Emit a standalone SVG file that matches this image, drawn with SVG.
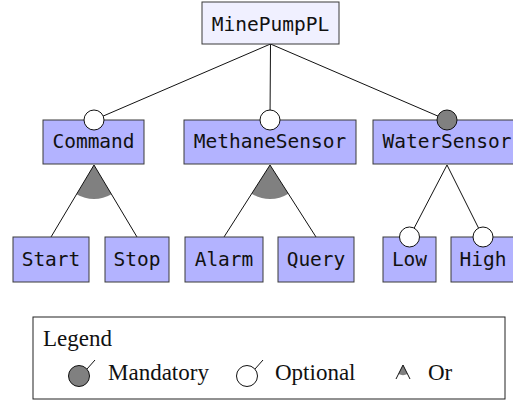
<svg xmlns="http://www.w3.org/2000/svg" width="513" height="402" viewBox="0 0 513 402">
<style>
.box{fill:#b3b3ff;stroke:#3a3a3a;stroke-width:1}
.root{fill:#f0f0ff;stroke:#3a3a3a;stroke-width:1}
.lbl{font-family:"DejaVu Sans Mono",monospace;font-size:19.5px;fill:#111;text-anchor:middle}
.ln{stroke:#111;stroke-width:1;fill:none}
.opt{fill:#fff;stroke:#111;stroke-width:1}
.man{fill:#808080;stroke:#111;stroke-width:1}
.or{fill:#808080;stroke:none}
.leg{font-family:"Liberation Serif",serif;font-size:23px;fill:#111}
</style>
<rect width="513" height="402" fill="#fff"/>
<g id="connectors">
<line class="ln" x1="270.5" y1="44" x2="94" y2="120"/>
<line class="ln" x1="270.5" y1="44" x2="270" y2="120"/>
<line class="ln" x1="270.5" y1="44" x2="447" y2="120"/>
<path class="or" d="M94,165 L76.6,194.2 A34,34 0 0 0 111.4,194.2 Z"/>
<line class="ln" x1="94" y1="165" x2="51" y2="237"/>
<line class="ln" x1="94" y1="165" x2="137" y2="237"/>
<path class="or" d="M270,165 L251.7,193.7 A34,34 0 0 0 288.3,193.7 Z"/>
<line class="ln" x1="270" y1="165" x2="224" y2="237"/>
<line class="ln" x1="270" y1="165" x2="316" y2="237"/>
<line class="ln" x1="447" y1="165" x2="409.5" y2="237"/>
<line class="ln" x1="447" y1="165" x2="483" y2="237"/>
</g>
<g id="MinePumpPL"><rect class="root" x="202" y="2" width="137" height="42"/><text class="lbl" x="270.5" y="31">MinePumpPL</text></g>
<g id="Command"><rect class="box" x="43" y="120" width="101" height="44"/><text class="lbl" x="93.5" y="148">Command</text><circle class="opt" cx="94" cy="120" r="10"/></g>
<g id="MethaneSensor"><rect class="box" x="184" y="120" width="172" height="44"/><text class="lbl" x="270" y="148">MethaneSensor</text><circle class="opt" cx="270" cy="120" r="10"/></g>
<g id="WaterSensor"><rect class="box" x="373" y="120" width="148" height="44"/><text class="lbl" x="447" y="148">WaterSensor</text><circle class="man" cx="447" cy="120" r="10"/></g>
<g id="Start"><rect class="box" x="13" y="237" width="76" height="45"/><text class="lbl" x="51" y="266">Start</text></g>
<g id="Stop"><rect class="box" x="105" y="237" width="64" height="45"/><text class="lbl" x="137" y="266">Stop</text></g>
<g id="Alarm"><rect class="box" x="185" y="237" width="78" height="45"/><text class="lbl" x="224" y="266">Alarm</text></g>
<g id="Query"><rect class="box" x="278" y="237" width="76" height="45"/><text class="lbl" x="316" y="266">Query</text></g>
<g id="Low"><rect class="box" x="383" y="237" width="53" height="45"/><text class="lbl" x="409.5" y="266">Low</text><circle class="opt" cx="409.5" cy="237" r="10"/></g>
<g id="High"><rect class="box" x="451" y="237" width="64" height="45"/><text class="lbl" x="483" y="266">High</text><circle class="opt" cx="483" cy="237" r="10"/></g>
<g id="legend">
<rect x="33" y="317" width="472" height="82" fill="#fff" stroke="#222" stroke-width="1"/>
<text class="leg" x="43" y="346">Legend</text>
<circle class="man" cx="79" cy="376" r="10.5"/>
<line class="ln" x1="87" y1="369" x2="95" y2="360"/>
<text class="leg" x="108" y="380">Mandatory</text>
<circle class="opt" cx="247" cy="376" r="10.5"/>
<line class="ln" x1="255" y1="369" x2="263" y2="360"/>
<text class="leg" x="275" y="380">Optional</text>
<path class="or" d="M403,365 L398.5,374 A10,10 0 0 0 407.5,374 Z"/>
<line class="ln" x1="403" y1="365" x2="396" y2="379"/>
<line class="ln" x1="403" y1="365" x2="410" y2="379"/>
<text class="leg" x="428" y="380">Or</text>
</g>
</svg>
